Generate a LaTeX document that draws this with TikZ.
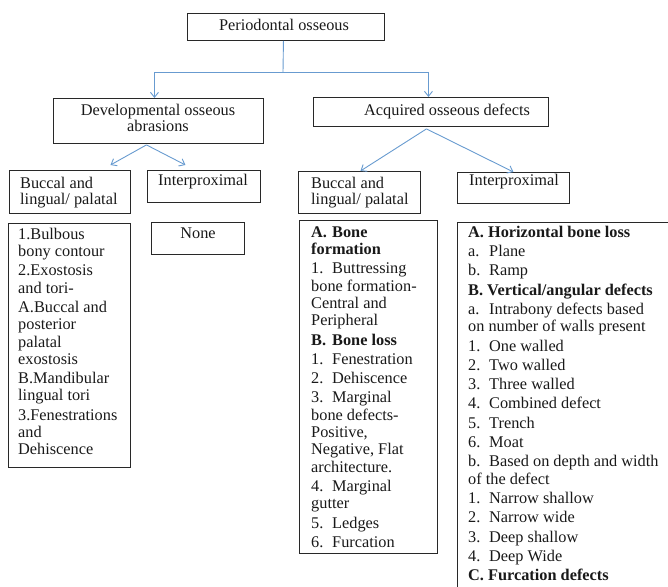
\documentclass[tikz,border=0pt]{standalone}
\usepackage{fontspec}
\setmainfont{Liberation Serif}
\usetikzlibrary{arrows.meta}
\definecolor{conncol}{RGB}{104,155,208}
\definecolor{boxcol}{RGB}{40,40,40}
\newcommand{\lab}[1]{\makebox[21pt][l]{#1}}
\newcommand{\fs}{\rule{0pt}{12pt}}
\begin{document}
\begin{tikzpicture}[x=1pt,y=-1pt,
  bx/.style={draw=boxcol, line width=0.9pt, inner sep=0pt, anchor=north west},
  txt/.style={inner sep=0pt, anchor=north west, align=left, font=\fontsize{16.3}{17.3}\selectfont, text=black!90},
  ctxt/.style={txt, anchor=north, align=center},
  conn/.style={draw=conncol, line width=0.9pt},
  arr/.style={conn, -{Straight Barb[length=5pt,width=8pt]}}]
\useasboundingbox (0,0) rectangle (668,586);
\clip (0,0) rectangle (668,586);
% boxes
\node[bx, minimum width=197pt, minimum height=27pt] (top) at (187,13) {};
\node[bx, minimum width=210pt, minimum height=45pt] (dev) at (53,98) {};
\node[bx, minimum width=235pt, minimum height=29pt] (acq) at (313,97) {};
\node[bx, minimum width=121pt, minimum height=43pt] (lb) at (9,170) {};
\node[bx, minimum width=113pt, minimum height=32pt] (li) at (147,170) {};
\node[bx, minimum width=122pt, minimum height=42pt] (mb) at (298,171) {};
\node[bx, minimum width=112pt, minimum height=31pt] (ri) at (457,172) {};
\node[bx, minimum width=122pt, minimum height=244pt] (ll) at (8,223) {};
\node[bx, minimum width=93pt, minimum height=32pt] (none) at (151,222) {};
\node[bx, minimum width=138pt, minimum height=333pt] (ml) at (299,220) {};
\node[bx, minimum width=215pt, minimum height=380pt] (rl) at (457,222) {};
% texts
\node[ctxt] (topt) at (284,18) {\fs Periodontal osseous};
\node[ctxt] (devt) at (158,103) {\fs Developmental osseous\\[-1.3pt]abrasions};
\node[txt] (acqt) at (364,103) {\fs Acquired osseous defects};
\node[txt] (lbt) at (20,176) {\fs Buccal and\\[-1.3pt]lingual/ palatal};
\node[txt] (lit) at (158,173) {\fs Interproximal};
\node[txt] (mbt) at (311,176) {\fs Buccal and\\[-1.3pt]lingual/ palatal};
\node[txt] (rit) at (469,173) {\fs Interproximal};
\node[ctxt] (nonet) at (198,226) {\fs None};
\node[txt] (llt) at (18,227) {\fs 1.Bulbous\\ bony contour\\[2pt]
  2.Exostosis\\ and tori-\\[2pt]
  A.Buccal and\\ posterior\\ palatal\\ exostosis\\[2pt]
  B.Mandibular\\ lingual tori\\[2pt]
  3.Fenestrations\\ and\\ Dehiscence};
\node[txt] (mlt) at (311,225) {\fs\textbf{\lab{A.}Bone}\\ \textbf{formation}\\[2pt]
  \lab{1.}Buttressing\\ bone formation-\\ Central and\\ Peripheral\\[2pt]
  \textbf{\lab{B.}Bone loss}\\[2pt]
  \lab{1.}Fenestration\\[2pt]
  \lab{2.}Dehiscence\\[2pt]
  \lab{3.}Marginal\\ bone defects-\\ Positive,\\ Negative, Flat\\ architecture.\\[2pt]
  \lab{4.}Marginal\\ gutter\\[2pt]
  \lab{5.}Ledges\\[2pt]
  \lab{6.}Furcation};
\node[txt] (rlt) at (468,225) {\fs\textbf{A. Horizontal bone loss}\\[2pt]
  \lab{a.}Plane\\[2pt]
  \lab{b.}Ramp\\[2pt]
  \textbf{B. Vertical/angular defects}\\[2pt]
  \lab{a.}Intrabony defects based\\ on number of walls present\\[2pt]
  \lab{1.}One walled\\[2pt]
  \lab{2.}Two walled\\[2pt]
  \lab{3.}Three walled\\[2pt]
  \lab{4.}Combined defect\\[2pt]
  \lab{5.}Trench\\[2pt]
  \lab{6.}Moat\\[2pt]
  \lab{b.}Based on depth and width\\ of the defect\\[2pt]
  \lab{1.}Narrow shallow\\[2pt]
  \lab{2.}Narrow wide\\[2pt]
  \lab{3.}Deep shallow\\[2pt]
  \lab{4.}Deep Wide\\[2pt]
  \textbf{C. Furcation defects}};
% connectors
\coordinate (j) at (283,72);
\draw[conn] ([xshift=-2.5pt]top.south) -- (j);
\draw[arr] (j) -| ([xshift=-4pt]dev.north);
\draw[arr] (j) -| ([xshift=-2.5pt]acq.north);
\draw[arr] ([xshift=-12pt,yshift=-1pt]dev.south) -- ([xshift=40.5pt,yshift=5pt]lb.north);
\draw[arr] ([xshift=-12pt,yshift=-1pt]dev.south) -- ([xshift=-18.5pt,yshift=5pt]li.north);
\draw[arr] ([xshift=-4.5pt,yshift=-2pt]acq.south) -- ([xshift=1pt]mb.north);
\draw[arr] ([xshift=-4.5pt,yshift=-2pt]acq.south) -- (ri.north);
\end{tikzpicture}
\end{document}
